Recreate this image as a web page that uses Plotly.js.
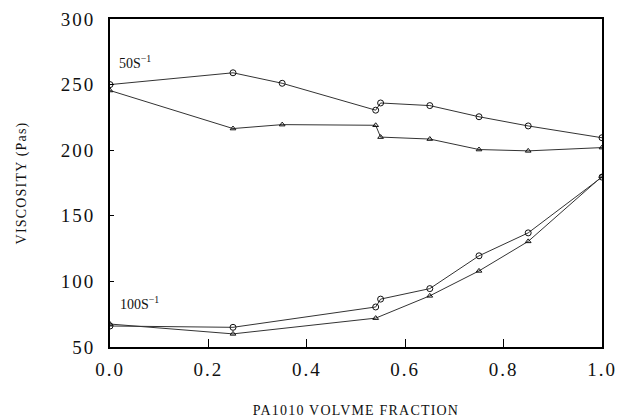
<!DOCTYPE html>
<html>
<head>
<meta charset="utf-8">
<script src="https://cdn.plot.ly/plotly-3.0.1.min.js"></script>
<style>
html,body{margin:0;padding:0;background:#fff;}
#chart{width:622px;height:420px;}
#chart .xtick text, #chart .ytick text{letter-spacing:2px;}
#chart .xtitle, #chart .ytitle{letter-spacing:1.2px;}
</style>
</head>
<body>
<div id="chart"></div>
<script>
// PA1010 volume fraction
const x50circ = [0, 0.25, 0.35, 0.54, 0.55, 0.65, 0.75, 0.85, 1.0];
const y50circ = [250, 259, 251, 230.5, 236, 234, 225.5, 218.5, 209.5];
const x50tri = [0, 0.25, 0.35, 0.54, 0.55, 0.65, 0.75, 0.85, 1.0];
const y50tri = [245.5, 216.5, 219.5, 219, 210, 208.5, 200.5, 199.5, 202];
const x100circ = [0, 0.25, 0.54, 0.55, 0.65, 0.75, 0.85, 1.0];
const y100circ = [66, 65, 80.5, 86.5, 94.5, 119.5, 137, 179.5];
const x100tri = [0, 0.25, 0.54, 0.65, 0.75, 0.85, 1.0];
const y100tri = [67.5, 60, 72, 89, 108, 130.5, 180];
const xTicks = [0, 0.2, 0.4, 0.6, 0.8, 1.0];
const xTickText = ['0.0', '0.2', '0.4', '0.6', '0.8', '1.0'];
const yTicks = [50, 100, 150, 200, 250, 300];
const labels = [{text: '50S<sup>−1</sup>', x: 0.015, y: 267}, {text: '100S<sup>−1</sup>', x: 0.017, y: 83.5}];

const lineStyle = {color: '#333', width: 1};
function tr(x, y, sym) {
  return {x: x, y: y, type: 'scatter', mode: 'lines+markers', line: lineStyle,
    marker: {symbol: sym, size: sym === 'circle-open' ? 6 : 5, color: '#111', line: {color: '#111', width: 1}},
    showlegend: false, hoverinfo: 'skip'};
}
const data = [
  tr(x50circ, y50circ, 'circle-open'),
  tr(x50tri, y50tri, 'triangle-up-open'),
  tr(x100circ, y100circ, 'circle-open'),
  tr(x100tri, y100tri, 'triangle-up-open')
];
const serif = '"Liberation Serif", "DejaVu Serif", serif';
const layout = {
  width: 622, height: 420,
  margin: {l: 110, r: 20, t: 19, b: 73},
  paper_bgcolor: '#fff', plot_bgcolor: '#fff',
  xaxis: {range: [0, 1], tickvals: xTicks, ticktext: xTickText, ticks: 'inside', ticklen: 8, tickwidth: 1, tickcolor: '#000',
    showgrid: false, zeroline: false, showline: true, linecolor: '#000', linewidth: 2, mirror: true,
    ticklabelstandoff: 4,
    tickfont: {family: serif, size: 19, color: '#111'},
    title: {text: 'PA1010 VOLVME FRACTION', font: {family: serif, size: 14, color: '#111'}, standoff: 26}},
  yaxis: {range: [50, 300], tickvals: yTicks, ticks: 'inside', ticklen: 4, tickwidth: 1, tickcolor: '#000',
    showgrid: false, zeroline: false, showline: true, linecolor: '#000', linewidth: 2, mirror: true,
    ticklabelstandoff: 9,
    tickfont: {family: serif, size: 19, color: '#111'},
    title: {text: 'VISCOSITY (Pas)', font: {family: serif, size: 14, color: '#111'}, standoff: 37}},
  annotations: labels.map(l => ({text: l.text, x: l.x, y: l.y, xref: 'x', yref: 'y', xanchor: 'left', yanchor: 'middle',
    showarrow: false, font: {family: serif, size: 14, color: '#111'}}))
};
Plotly.newPlot('chart', data, layout, {displayModeBar: false, staticPlot: true});
</script>
</body>
</html>
